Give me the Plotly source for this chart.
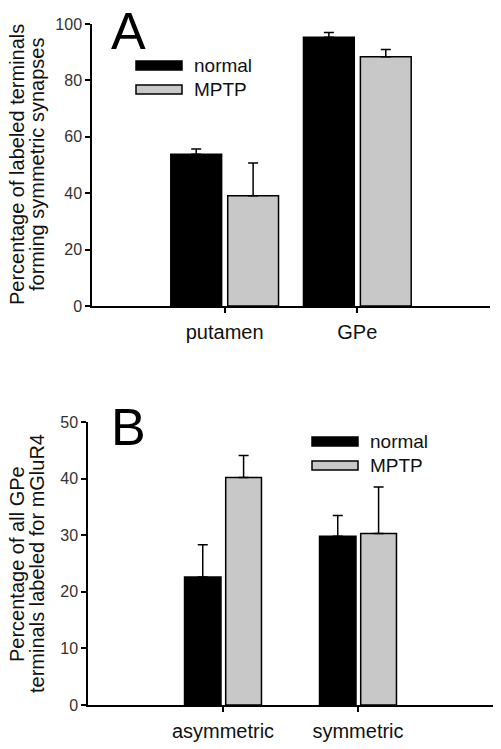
import plotly.graph_objects as go

# ---- data ----
series_names = ["normal", "MPTP"]
cats_a = ["putamen", "GPe"]
normal_a = [53.8, 95.3]
normal_a_err = [1.9, 1.7]
mptp_a = [39.1, 88.4]
mptp_a_err = [11.6, 2.6]

cats_b = ["asymmetric", "symmetric"]
normal_b = [22.6, 29.8]
normal_b_err = [5.7, 3.7]
mptp_b = [40.2, 30.3]
mptp_b_err = [3.9, 8.2]

ytitle_a = ["Percentage of labeled terminals", "forming symmetric synapses"]
ytitle_b = ["Percentage of all GPe", "terminals labeled for mGluR4"]
yticks_a = [0, 20, 40, 60, 80, 100]
yticks_b = [0, 10, 20, 30, 40, 50]

W, H = 501, 749
FONT = "Liberation Sans, Arial, sans-serif"
fills = ["#000000", "#c8c8c8"]


def px(x):
    return x / W


def py(y):
    return 1 - y / H


fig = go.Figure()


def add_panel(cats, vals, errs, xa, ya, offsets, widths):
    for i, name in enumerate(series_names):
        fig.add_trace(go.Bar(
            x=cats, y=vals[i], name=name, showlegend=False,
            xaxis=xa, yaxis=ya,
            offset=offsets[i], width=widths[i],
            marker=dict(color=fills[i], line=dict(color="#000000", width=1.5)),
            error_y=dict(type="data", symmetric=False, array=errs[i],
                         arrayminus=[0] * len(errs[i]),
                         color="#000000", thickness=1.5, width=5),
        ))


add_panel(cats_a, [normal_a, mptp_a], [normal_a_err, mptp_a_err], "x", "y",
          [-0.406, 0.023], [0.383, 0.383])
add_panel(cats_b, [normal_b, mptp_b], [normal_b_err, mptp_b_err], "x2", "y2",
          [-0.285, 0.02], [0.27, 0.265])

axis_common = dict(showline=True, linecolor="#000000", linewidth=1.5,
                   showgrid=False, zeroline=False, ticks="outside",
                   tickcolor="#000000", tickwidth=1.5, ticklen=5,
                   automargin=False)

fig.update_layout(
    width=W, height=H, margin=dict(l=0, r=0, t=0, b=0, pad=0),
    paper_bgcolor="white", plot_bgcolor="white",
    barmode="overlay", showlegend=False,
    font=dict(family=FONT, color="#222222"),
    xaxis=dict(domain=[px(92), px(490)], anchor="y", type="category",
               range=[-1, 2], tickfont=dict(size=20, color="#111111"),
               ticklabelstandoff=2, **axis_common),
    yaxis=dict(domain=[py(306), py(24)], anchor="x", range=[0, 100],
               tickvals=yticks_a, tickfont=dict(size=16, color="#333333"),
               **axis_common),
    xaxis2=dict(domain=[px(88), px(493)], anchor="y2", type="category",
                range=[-1, 2], tickfont=dict(size=20, color="#111111"),
                ticklabelstandoff=2, **axis_common),
    yaxis2=dict(domain=[py(705), py(422)], anchor="x2", range=[0, 50],
                tickvals=yticks_b, tickfont=dict(size=16, color="#333333"),
                **axis_common),
)

ann = []
shapes = []
# y-axis titles (two lines each, tight spacing)
for lines, yc in ((ytitle_a, 165), (ytitle_b, 564)):
    for j, t in enumerate(lines):
        ann.append(dict(text=t, xref="paper", yref="paper", x=px(17 + 20 * j),
                        y=py(yc), xanchor="center", yanchor="middle",
                        textangle=-90, showarrow=False,
                        font=dict(size=20, family=FONT, color="#111111")))

# panel letters
for letter, xl, yt in (("A", 109, 0), ("B", 109, 396)):
    ann.append(dict(text=letter, xref="paper", yref="paper", x=px(xl), y=py(yt),
                    xanchor="left", yanchor="top", showarrow=False,
                    font=dict(size=52, family=FONT, color="#000000")))

# manual legends
for (bx, ys) in ((136, (61, 85)), (312, (437, 461))):
    for i, name in enumerate(series_names):
        y0 = ys[i]
        shapes.append(dict(type="rect", xref="paper", yref="paper",
                           x0=px(bx), x1=px(bx + 46), y0=py(y0 + 9), y1=py(y0),
                           fillcolor=fills[i], line=dict(color="#000000", width=1.5)))
        ann.append(dict(text=name, xref="paper", yref="paper", x=px(bx + 56),
                        y=py(y0 + 4.5), xanchor="left", yanchor="middle",
                        showarrow=False,
                        font=dict(size=19, family=FONT, color="#111111")))

fig.update_layout(annotations=ann, shapes=shapes)
fig.write_html("out.html", config={"displayModeBar": False},
               post_script="document.body.style.margin='0';document.body.style.overflow='hidden';")
